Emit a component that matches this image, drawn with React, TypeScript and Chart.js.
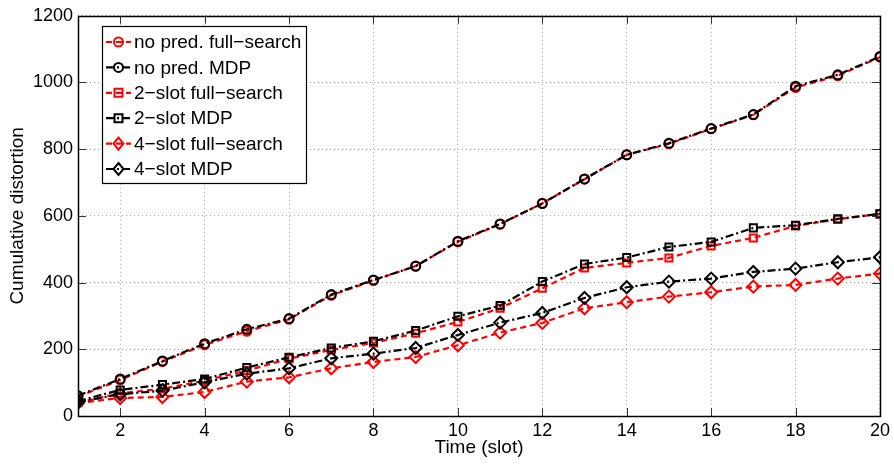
import React, { useEffect, useRef } from "react";
import { Chart, registerables } from "chart.js";

Chart.register(...registerables);

const slots = [1, 2, 3, 4, 5, 6, 7, 8, 9, 10, 11, 12, 13, 14, 15, 16, 17, 18, 19, 20];
const xTicks = [2, 4, 6, 8, 10, 12, 14, 16, 18, 20];
const noPredFull = [58, 108, 163, 213, 254, 290, 362, 406, 450, 522, 575, 638, 710, 783, 816, 861, 903, 985, 1020, 1076];
const noPredMDP = [61, 111, 165, 217, 260, 292, 364, 408, 449, 524, 576, 637, 711, 783, 818, 862, 904, 989, 1023, 1078];
const twoSlotFull = [40, 68, 82, 106, 136, 172, 198, 219, 248, 282, 323, 383, 444, 459, 474, 510, 534, 570, 590, 606];
const twoSlotMDP = [45, 78, 94, 111, 145, 176, 204, 224, 256, 299, 331, 403, 456, 475, 507, 522, 564, 572, 591, 606];
const fourSlotFull = [39, 54, 57, 72, 103, 116, 143, 162, 177, 212, 250, 279, 323, 341, 358, 371, 388, 393, 412, 427];
const fourSlotMDP = [42, 65, 76, 101, 127, 143, 173, 187, 204, 243, 280, 309, 354, 386, 403, 412, 432, 442, 461, 476];
const seriesLabels = [
  "no pred. full\u2212search",
  "no pred. MDP",
  "2\u2212slot full\u2212search",
  "2\u2212slot MDP",
  "4\u2212slot full\u2212search",
  "4\u2212slot MDP",
];

const FONT = "'Liberation Sans', Arial, Helvetica, sans-serif";
const RED = "#ff0000";
const BLACK = "#000000";
const RED_DASH = [6, 4];
const BLACK_DASH = [8, 3, 2, 3];

function drawMarker(ctx: CanvasRenderingContext2D, style: string, x: number, y: number, color: string) {
  ctx.save();
  ctx.setLineDash([]);
  ctx.strokeStyle = color;
  ctx.lineWidth = 2;
  ctx.beginPath();
  if (style === "circle") {
    ctx.arc(x, y, 4.5, 0, Math.PI * 2);
  } else if (style === "rect") {
    ctx.rect(x - 4, y - 4, 8, 8);
  } else {
    ctx.moveTo(x, y - 6);
    ctx.lineTo(x + 5, y);
    ctx.lineTo(x, y + 6);
    ctx.lineTo(x - 5, y);
    ctx.closePath();
  }
  ctx.stroke();
  ctx.restore();
}

export default function App() {
  const ref = useRef<HTMLCanvasElement | null>(null);
  useEffect(() => {
    if (!ref.current) return;
    const values = [noPredFull, noPredMDP, twoSlotFull, twoSlotMDP, fourSlotFull, fourSlotMDP];
    const styles = ["circle", "circle", "rect", "rect", "rectRot", "rectRot"];
    const datasets = values.map((vals, i) => {
      const isRed = i % 2 === 0;
      const color = isRed ? RED : BLACK;
      return {
        label: seriesLabels[i],
        data: slots.map((s, k) => ({ x: s, y: vals[k] })),
        borderColor: color,
        backgroundColor: "rgba(0,0,0,0)",
        borderWidth: 2.2,
        borderDash: isRed ? RED_DASH : BLACK_DASH,
        pointStyle: styles[i],
        pointRadius: styles[i] === "rectRot" ? 6 : styles[i] === "rect" ? 5 : 4.5,
        pointBorderWidth: 2,
        pointBorderColor: color,
        pointBackgroundColor: "rgba(0,0,0,0)",
        tension: 0,
        order: isRed ? 1 : 0,
      };
    });

    const framePlugin = {
      id: "frame",
      afterDraw(chart: any) {
        const ctx: CanvasRenderingContext2D = chart.ctx;
        const a = chart.chartArea;
        const xs = chart.scales.x;
        const ys = chart.scales.y;
        ctx.save();
        ctx.setLineDash([]);
        ctx.strokeStyle = "#333";
        ctx.lineWidth = 1;
        ctx.beginPath();
        xTicks.forEach((t) => {
          const px = Math.round(xs.getPixelForValue(t)) + 0.5;
          ctx.moveTo(px, a.bottom);
          ctx.lineTo(px, a.bottom - 8);
          ctx.moveTo(px, a.top);
          ctx.lineTo(px, a.top + 8);
        });
        for (let v = 0; v <= 1200; v += 200) {
          const py = Math.round(ys.getPixelForValue(v)) + 0.5;
          ctx.moveTo(a.left, py);
          ctx.lineTo(a.left + 8, py);
          ctx.moveTo(a.right, py);
          ctx.lineTo(a.right - 8, py);
        }
        ctx.stroke();
        ctx.strokeStyle = "#000";
        ctx.lineWidth = 1.5;
        ctx.strokeRect(Math.round(a.left) + 0.5, Math.round(a.top) + 0.5, Math.round(a.right - a.left), Math.round(a.bottom - a.top));

        const lx = 102, ly = 26, lw = 204, lh = 157;
        ctx.fillStyle = "#fff";
        ctx.fillRect(lx, ly, lw, lh);
        ctx.strokeStyle = "#000";
        ctx.lineWidth = 1.2;
        ctx.strokeRect(lx + 0.5, ly + 0.5, lw, lh);
        ctx.font = `19px ${FONT}`;
        ctx.textBaseline = "middle";
        ctx.textAlign = "left";
        for (let i = 0; i < 6; i++) {
          const y = 42 + i * 25.4;
          const isRed = i % 2 === 0;
          const color = isRed ? RED : BLACK;
          ctx.strokeStyle = color;
          ctx.lineWidth = 2.2;
          ctx.setLineDash(isRed ? RED_DASH : BLACK_DASH);
          ctx.beginPath();
          ctx.moveTo(106, y);
          ctx.lineTo(131, y);
          ctx.stroke();
          drawMarker(ctx, styles[i], 118.5, y, color);
          ctx.fillStyle = "#000";
          ctx.fillText(seriesLabels[i], 134, y + 1);
        }
        ctx.restore();
      },
    };

    const chart = new Chart(ref.current, {
      type: "line",
      data: { datasets },
      options: {
        responsive: false,
        animation: false,
        layout: { padding: { left: 0, right: 13, top: 8, bottom: 0 } },
        plugins: { legend: { display: false }, tooltip: { enabled: false } },
        scales: {
          x: {
            type: "linear",
            min: 1,
            max: 20,
            afterBuildTicks: (scale: any) => {
              scale.ticks = xTicks.map((v) => ({ value: v }));
            },
            afterFit: (scale: any) => {
              scale.height = 48;
            },
            grid: { color: "#a8a8a8", lineWidth: 1, drawTicks: false },
            border: { display: false, dash: [1, 3] },
            ticks: {
              color: "#000",
              font: { family: FONT, size: 18 },
              padding: 4,
              maxRotation: 0,
              autoSkip: false,
              callback: (v: any) => String(v),
            },
            title: {
              display: true,
              text: "Time (slot)",
              color: "#000",
              font: { family: FONT, size: 19 },
              padding: { top: 0, bottom: 4.5 },
            },
          },
          y: {
            type: "linear",
            min: 0,
            max: 1200,
            afterFit: (scale: any) => {
              scale.width = 78;
            },
            grid: { color: "#a8a8a8", lineWidth: 1, drawTicks: false },
            border: { display: false, dash: [1, 3] },
            ticks: {
              stepSize: 200,
              color: "#000",
              font: { family: FONT, size: 18 },
              padding: 5,
              callback: (v: any) => String(v),
            },
            title: {
              display: true,
              text: "Cumulative distortion",
              color: "#000",
              font: { family: FONT, size: 19 },
              padding: { top: 6, bottom: 0 },
            },
          },
        },
      },
      plugins: [framePlugin],
    } as any);
    return () => chart.destroy();
  }, []);

  return (
    <div style={{ position: "absolute", left: 0, top: 0, width: 894, height: 464, background: "#fff" }}>
      <canvas ref={ref} width={894} height={464} style={{ width: 894, height: 464, display: "block" }} />
    </div>
  );
}
